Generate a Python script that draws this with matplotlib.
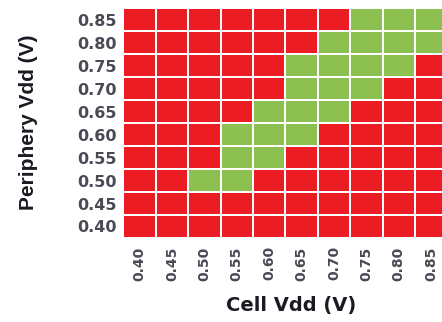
import matplotlib
matplotlib.use("Agg")
import matplotlib.pyplot as plt
from matplotlib.colors import ListedColormap
from matplotlib import font_manager
import numpy as np

cell_vdd = ["0.40", "0.45", "0.50", "0.55", "0.60", "0.65", "0.70", "0.75", "0.80", "0.85"]
periphery_vdd = ["0.40", "0.45", "0.50", "0.55", "0.60", "0.65", "0.70", "0.75", "0.80", "0.85"]
# 1 = pass (green), 0 = fail (red); rows follow periphery_vdd (bottom to top)
pass_0_40 = [0, 0, 0, 0, 0, 0, 0, 0, 0, 0]
pass_0_45 = [0, 0, 0, 0, 0, 0, 0, 0, 0, 0]
pass_0_50 = [0, 0, 1, 1, 0, 0, 0, 0, 0, 0]
pass_0_55 = [0, 0, 0, 1, 1, 0, 0, 0, 0, 0]
pass_0_60 = [0, 0, 0, 1, 1, 1, 0, 0, 0, 0]
pass_0_65 = [0, 0, 0, 0, 1, 1, 1, 0, 0, 0]
pass_0_70 = [0, 0, 0, 0, 0, 1, 1, 1, 0, 0]
pass_0_75 = [0, 0, 0, 0, 0, 1, 1, 1, 1, 0]
pass_0_80 = [0, 0, 0, 0, 0, 0, 1, 1, 1, 1]
pass_0_85 = [0, 0, 0, 0, 0, 0, 0, 1, 1, 1]

grid = np.array([pass_0_40, pass_0_45, pass_0_50, pass_0_55, pass_0_60,
                 pass_0_65, pass_0_70, pass_0_75, pass_0_80, pass_0_85])

names = {f.name for f in font_manager.fontManager.ttflist}
narrow = "Liberation Sans Narrow" if "Liberation Sans Narrow" in names else "Liberation Sans"

fig = plt.figure(figsize=(4.42, 3.22), dpi=100)
L, B, W, H = 0.279, 0.261, 0.733, 0.713
ax = fig.add_axes([L, B, W, H])
cmap = ListedColormap(["#EC1C24", "#8CC152"])
ax.pcolormesh(grid, cmap=cmap, vmin=0, vmax=1, edgecolor="white", linewidth=1.2)
ax.set_xlim(0, len(cell_vdd))
ax.set_ylim(0, len(periphery_vdd))
ax.set_xticks(np.arange(len(cell_vdd)) + 0.5)
ax.set_xticklabels(cell_vdd, rotation=90, fontsize=10, color="#4a4a55", fontweight="bold")
ax.set_yticks(np.arange(len(periphery_vdd)) + 0.5)
ax.set_yticklabels(periphery_vdd, fontsize=11.5, color="#4a4a55", fontweight="bold")
ax.tick_params(axis="x", length=0, pad=6)
ax.tick_params(axis="y", length=0, pad=5)
for s in ax.spines.values():
    s.set_visible(False)
ax.set_xlabel("Cell Vdd (V)", fontsize=14, fontweight="bold", family="DejaVu Sans", color="#1a1a22")
ax.set_ylabel("Periphery Vdd (V)", fontsize=15, fontweight="bold", family=narrow, color="#1a1a22")
ax.xaxis.set_label_coords((291 / 442 - L) / W, ((1 - 306 / 322) - B) / H)
ax.yaxis.set_label_coords((28 / 442 - L) / W, ((1 - 122 / 322) - B) / H)
ax.xaxis.label.set_verticalalignment("center")
ax.yaxis.label.set_verticalalignment("center")
fig.savefig("out.png", dpi=100)
